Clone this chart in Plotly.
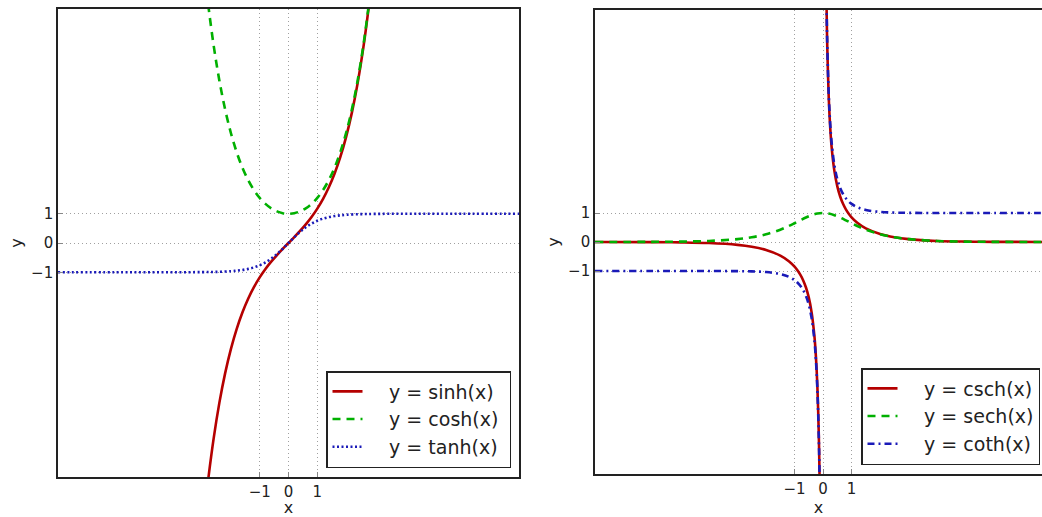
import plotly.graph_objects as go

# ---------------- data ----------------
x_sc = [-2.9, -2.8, -2.6, -2.4, -2.2, -2.0, -1.8, -1.6, -1.4, -1.2, -1.0, -0.8, -0.6, -0.4, -0.2,
        0.0, 0.2, 0.4, 0.6, 0.8, 1.0, 1.2, 1.4, 1.6, 1.8, 2.0, 2.2, 2.4, 2.6, 2.8, 2.9]
y_sinh = [-9.060, -8.192, -6.695, -5.466, -4.457, -3.627, -2.942, -2.376, -1.904, -1.509, -1.175,
          -0.888, -0.637, -0.411, -0.201, 0.0, 0.201, 0.411, 0.637, 0.888, 1.175, 1.509, 1.904,
          2.376, 2.942, 3.627, 4.457, 5.466, 6.695, 8.192, 9.060]
y_cosh = [9.115, 8.253, 6.769, 5.557, 4.568, 3.762, 3.107, 2.577, 2.151, 1.811, 1.543, 1.337,
          1.185, 1.081, 1.020, 1.0, 1.020, 1.081, 1.185, 1.337, 1.543, 1.811, 2.151, 2.577,
          3.107, 3.762, 4.568, 5.557, 6.769, 8.253, 9.115]
x_tanh = [-8, -6, -5, -4, -3, -2.5, -2, -1.8, -1.6, -1.4, -1.2, -1.0, -0.8, -0.6, -0.4, -0.2, 0,
          0.2, 0.4, 0.6, 0.8, 1.0, 1.2, 1.4, 1.6, 1.8, 2, 2.5, 3, 4, 5, 6, 8]
y_tanh = [-1.0, -1.0, -0.9999, -0.9993, -0.9951, -0.9866, -0.964, -0.947, -0.922, -0.885, -0.834,
          -0.762, -0.664, -0.537, -0.380, -0.197, 0.0, 0.197, 0.380, 0.537, 0.664, 0.762, 0.834,
          0.885, 0.922, 0.947, 0.964, 0.9866, 0.9951, 0.9993, 0.9999, 1.0, 1.0]

x_recip = [-8, -6, -5, -4, -3, -2.5, -2, -1.5, -1.2, -1.0, -0.9, -0.8, -0.7, -0.6, -0.5, -0.4,
           -0.3, -0.25, -0.2, -0.15, -0.125, -0.1, None,
           0.1, 0.125, 0.15, 0.2, 0.25, 0.3, 0.4, 0.5, 0.6, 0.7, 0.8, 0.9, 1.0, 1.2, 1.5, 2,
           2.5, 3, 4, 5, 6, 8]
y_csch = [-0.0007, -0.0050, -0.0135, -0.0366, -0.0998, -0.1652, -0.2757, -0.4696, -0.6624,
          -0.8509, -0.974, -1.126, -1.318, -1.570, -1.919, -2.435, -3.284, -3.959, -4.967,
          -6.642, -7.979, -9.983, None,
          9.983, 7.979, 6.642, 4.967, 3.959, 3.284, 2.435, 1.919, 1.570, 1.318, 1.126, 0.974,
          0.8509, 0.6624, 0.4696, 0.2757, 0.1652, 0.0998, 0.0366, 0.0135, 0.0050, 0.0007]
y_coth = [-1.0, -1.0, -1.0, -1.001, -1.005, -1.013, -1.037, -1.105, -1.199, -1.313, -1.396,
          -1.506, -1.655, -1.862, -2.164, -2.632, -3.433, -4.083, -5.066, -6.717, -8.041,
          -10.033, None,
          10.033, 8.041, 6.717, 5.066, 4.083, 3.433, 2.632, 2.164, 1.862, 1.655, 1.506, 1.396,
          1.313, 1.199, 1.105, 1.037, 1.013, 1.005, 1.001, 1.0, 1.0, 1.0]
x_sech = [-8, -6, -5, -4, -3, -2.5, -2, -1.5, -1.2, -1.0, -0.8, -0.6, -0.4, -0.2, 0,
          0.2, 0.4, 0.6, 0.8, 1.0, 1.2, 1.5, 2, 2.5, 3, 4, 5, 6, 8]
y_sech = [0.0007, 0.0050, 0.0135, 0.0366, 0.0993, 0.1631, 0.2658, 0.4251, 0.5522, 0.6481,
          0.7477, 0.8436, 0.9250, 0.9803, 1.0, 0.9803, 0.9250, 0.8436, 0.7477, 0.6481, 0.5522,
          0.4251, 0.2658, 0.1631, 0.0993, 0.0366, 0.0135, 0.0050, 0.0007]

tick_vals = [-1, 0, 1]
tick_text = ["\u22121", "0", "1"]
names_left = ["y = sinh(x)", "y = cosh(x)", "y = tanh(x)"]
names_right = ["y = csch(x)", "y = sech(x)", "y = coth(x)"]

RED = "#b50000"
GREEN = "#00b000"
BLUE = "#1a1ab8"
FONT = "DejaVu Sans"
TXT = "#222222"
LW = 2.6

fig = go.Figure()
pad = "\u00a0\u00a0\u2002"
tail = "\u00a0"

fig.add_trace(go.Scatter(x=x_sc, y=y_sinh, mode="lines", name=pad + names_left[0] + tail,
                         line=dict(color=RED, width=LW, shape="spline"),
                         xaxis="x", yaxis="y", legend="legend"))
fig.add_trace(go.Scatter(x=x_sc, y=y_cosh, mode="lines", name=pad + names_left[1] + tail,
                         line=dict(color=GREEN, width=LW, dash="8px,6px", shape="spline"),
                         xaxis="x", yaxis="y", legend="legend"))
fig.add_trace(go.Scatter(x=x_tanh, y=y_tanh, mode="lines", name=pad + names_left[2] + tail,
                         line=dict(color=BLUE, width=LW, dash="2px,2.5px", shape="spline"),
                         xaxis="x", yaxis="y", legend="legend"))

fig.add_trace(go.Scatter(x=x_recip, y=y_csch, mode="lines", name=pad + names_right[0],
                         line=dict(color=RED, width=LW, shape="spline"), connectgaps=False,
                         xaxis="x2", yaxis="y2", legend="legend2"))
fig.add_trace(go.Scatter(x=x_sech, y=y_sech, mode="lines", name=pad + names_right[1],
                         line=dict(color=GREEN, width=LW, dash="8px,6px", shape="spline"),
                         xaxis="x2", yaxis="y2", legend="legend2"))
fig.add_trace(go.Scatter(x=x_recip, y=y_coth, mode="lines", name=pad + names_right[2],
                         line=dict(color=BLUE, width=LW, dash="7px,4px,2px,4px", shape="spline"),
                         connectgaps=False,
                         xaxis="x2", yaxis="y2", legend="legend2"))

W, H = 1042, 517

def ax_common():
    return dict(
        tickmode="array", tickvals=tick_vals, ticktext=tick_text,
        ticks="inside", ticklen=5, tickcolor="#888888", tickwidth=1,
        showgrid=True, gridcolor="#a0a0a0", griddash="1px,3px", gridwidth=1,
        zeroline=False, showline=True, linecolor=TXT, linewidth=1.6,
        tickfont=dict(family=FONT, size=15, color=TXT),
        automargin=False,
    )

tfont = dict(family=FONT, size=16, color=TXT)
xa = ax_common(); xa.update(domain=[58 / W, 519 / W], range=[-8, 8], anchor="y",
                            mirror=True, title=dict(text="x", standoff=14, font=tfont))
ya = ax_common(); ya.update(domain=[1 - 477 / H, 1 - 9 / H], range=[-8, 8], anchor="x",
                            mirror=True, title=dict(text="y", standoff=4, font=tfont))
xa2 = ax_common(); xa2.update(domain=[595 / W, 1.0], range=[-8, 7.68], anchor="y2",
                              mirror=True, title=dict(text="x", standoff=14, font=tfont))
ya2 = ax_common(); ya2.update(domain=[1 - 474 / H, 1 - 10 / H], range=[-8, 8], anchor="x2",
                              mirror=False, title=dict(text="y", standoff=4, font=tfont))

leg_common = dict(
    bgcolor="white", bordercolor=TXT, borderwidth=1.5,
    font=dict(family=FONT, size=19, color=TXT),
    tracegroupgap=0, itemwidth=30,
    xref="paper", yref="paper",
)
leg1 = dict(leg_common); leg1.update(x=326 / W, y=1 - 468 / H, xanchor="left", yanchor="bottom")
leg2 = dict(leg_common); leg2.update(x=861 / W, y=1 - 465 / H, xanchor="left", yanchor="bottom")

fig.update_layout(
    width=W, height=H,
    margin=dict(l=0, r=0, t=0, b=0),
    paper_bgcolor="white", plot_bgcolor="white",
    xaxis=xa, yaxis=ya, xaxis2=xa2, yaxis2=ya2,
    legend=leg1, legend2=leg2,
    showlegend=True,
)

fig.write_html(
    "out.html",
    config={"displayModeBar": False},
    post_script=(
        "document.documentElement.style.overflow='hidden';"
        "document.body.style.margin='0';document.body.style.overflow='hidden';"
        "var d=document.getElementById('{plot_id}');d.style.overflow='hidden';"
    ),
)
